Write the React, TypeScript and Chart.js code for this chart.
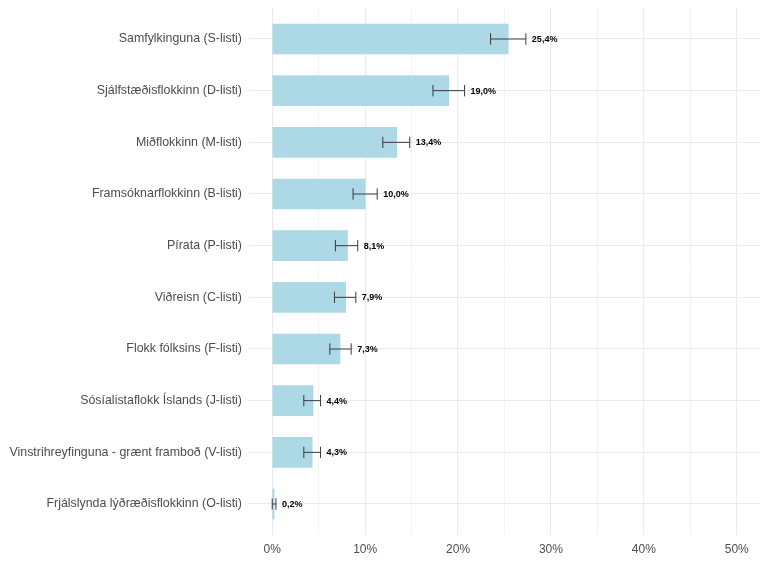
import React, { useEffect, useRef } from "react";
import { Chart, registerables } from "chart.js";

Chart.register(...registerables);

const categories = [
  "Samfylkinguna (S-listi)",
  "Sjálfstæðisflokkinn (D-listi)",
  "Miðflokkinn (M-listi)",
  "Framsóknarflokkinn (B-listi)",
  "Pírata (P-listi)",
  "Viðreisn (C-listi)",
  "Flokk fólksins (F-listi)",
  "Sósíalistaflokk Íslands (J-listi)",
  "Vinstrihreyfinguna - grænt framboð (V-listi)",
  "Frjálslynda lýðræðisflokkinn (O-listi)",
];
const values = [25.4, 19.0, 13.4, 10.0, 8.1, 7.9, 7.3, 4.4, 4.3, 0.2];
const lower = [23.5, 17.3, 11.9, 8.7, 6.8, 6.7, 6.2, 3.4, 3.4, 0.0];
const upper = [27.3, 20.7, 14.8, 11.3, 9.2, 9.0, 8.5, 5.2, 5.2, 0.4];
const valueLabels = ["25,4%", "19,0%", "13,4%", "10,0%", "8,1%", "7,9%", "7,3%", "4,4%", "4,3%", "0,2%"];
const xTicks = [0, 5, 10, 15, 20, 25, 30, 35, 40, 45, 50];

const FONT = "'Liberation Sans', Arial, sans-serif";

const errorBarPlugin = {
  id: "errorBars",
  afterDatasetsDraw(chart: any) {
    const ctx = chart.ctx;
    const xs = chart.scales.x;
    const ys = chart.scales.y;
    const capHalf = Math.abs(ys.getPixelForValue(0.11) - ys.getPixelForValue(0));
    ctx.save();
    ctx.strokeStyle = "#3a3a3a";
    ctx.lineWidth = 1;
    for (let i = 0; i < values.length; i++) {
      const y = ys.getPixelForValue(i);
      const x1 = xs.getPixelForValue(lower[i]);
      const x2 = xs.getPixelForValue(upper[i]);
      ctx.beginPath();
      ctx.moveTo(x1, y);
      ctx.lineTo(x2, y);
      ctx.moveTo(x1, y - capHalf);
      ctx.lineTo(x1, y + capHalf);
      ctx.moveTo(x2, y - capHalf);
      ctx.lineTo(x2, y + capHalf);
      ctx.stroke();
      ctx.fillStyle = "#000";
      ctx.font = `bold 9px ${FONT}`;
      ctx.textAlign = "left";
      ctx.textBaseline = "middle";
      ctx.fillText(valueLabels[i], x2 + 6, y + 0.5);
    }
    ctx.restore();
  },
};

export default function App() {
  const ref = useRef<HTMLCanvasElement | null>(null);
  useEffect(() => {
    if (!ref.current) return;
    const chart = new Chart(ref.current, {
      type: "bar",
      data: {
        datasets: [
          {
            data: values.map((v, i) => ({ x: v, y: i })),
            backgroundColor: "#add8e6",
            borderWidth: 0,
            barThickness: 30,
          },
        ],
      },
      options: {
        indexAxis: "y",
        animation: false,
        responsive: false,
        maintainAspectRatio: false,
        layout: { padding: { top: 8, right: 8, left: 0, bottom: 0 } },
        plugins: { legend: { display: false }, tooltip: { enabled: false } },
        scales: {
          x: {
            type: "linear",
            min: -2.5,
            max: 52.5,
            offset: false,
            afterBuildTicks: (s: any) => {
              s.ticks = xTicks.map((v) => ({ value: v }));
            },
            afterFit: (s: any) => {
              s.height = 28;
              s.paddingLeft = 0;
              s.paddingRight = 0;
            },
            border: { display: false },
            grid: {
              offset: false,
              drawTicks: false,
              color: "#ebebeb",
              lineWidth: (c: any) => (c.tick && c.tick.value % 10 === 0 ? 1.1 : 0.6),
            },
            ticks: {
              padding: 7,
              color: "#4d4d4d",
              font: { family: FONT, size: 12 },
              callback: (v: any) => (Number(v) % 10 === 0 ? `${v}%` : ""),
              maxRotation: 0,
              autoSkip: false,
            },
          },
          y: {
            type: "linear",
            reverse: true,
            min: -0.6,
            max: 9.6,
            offset: false,
            afterBuildTicks: (s: any) => {
              s.ticks = categories.map((_, i) => ({ value: i }));
            },
            afterFit: (s: any) => {
              s.width = 249;
              s.paddingTop = 0;
              s.paddingBottom = 0;
            },
            border: { display: false },
            grid: { offset: false, drawTicks: false, color: "#ebebeb", lineWidth: 1.1 },
            ticks: {
              padding: 7,
              color: "#4d4d4d",
              font: { family: FONT, size: 12.4 },
              autoSkip: false,
              callback: (v: any) => categories[Number(v)] ?? "",
            },
          },
        },
      },
      plugins: [errorBarPlugin],
    } as any);
    return () => chart.destroy();
  }, []);
  return (
    <div style={{ position: "fixed", left: 0, top: 0, width: 768, height: 563, background: "#fff" }}>
      <canvas ref={ref} width={768} height={563} style={{ width: 768, height: 563 }} />
    </div>
  );
}
